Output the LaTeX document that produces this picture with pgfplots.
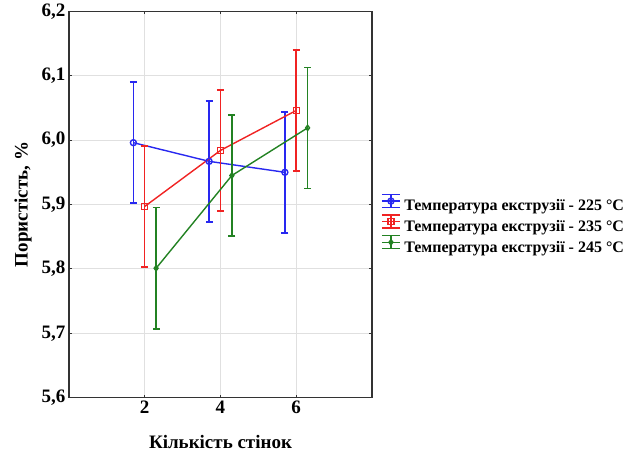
\documentclass[border=0pt]{standalone}
\usepackage{pgfplots}
\pgfplotsset{compat=1.18}
\usepackage{fontspec}
\setmainfont{Liberation Serif}

\definecolor{cblue}{RGB}{40,40,240}
\definecolor{cred}{RGB}{240,35,35}
\definecolor{cgreen}{RGB}{35,130,35}

\pgfplotsset{
  errlegend/.style={
    legend image code/.code={
      \draw[##1, mark=none] (0pt,5pt) -- (18pt,5pt);
      \draw[##1, mark=none] (9pt,-1.5pt) -- (9pt,11.5pt);
      \draw[##1, mark=none] (0pt,11.5pt) -- (18pt,11.5pt);
      \draw[##1, mark=none] (0pt,-1.5pt) -- (18pt,-1.5pt);
      \draw[##1] plot coordinates {(9pt,5pt)};
    }
  }
}

\begin{document}
\begin{tikzpicture}
\begin{axis}[
    scale only axis,
    width=303pt, height=386.4pt,
    xmin=0, xmax=8,
    ymin=5.6, ymax=6.2,
    xtick={2,4,6},
    ytick={5.6,5.7,5.8,5.9,6.0,6.1,6.2},
    grid=major,
    major grid style={black!12, line width=0.9pt},
    tick align=inside,
    major tick length=3pt,
    axis line style={black!80, line width=1.2pt},
    tick style={black!80, line width=0.8pt},
    /pgf/number format/use comma,
    /pgf/number format/assume math mode=true,
    ticklabel style={font=\fontsize{19}{21}\selectfont\bfseries},
    yticklabel style={/pgf/number format/fixed, /pgf/number format/fixed zerofill, /pgf/number format/precision=1},
    xlabel={Кількість стінок},
    ylabel={Пористість, \%},
    label style={font=\fontsize{19}{21}\selectfont\bfseries},
    xlabel style={at={(axis description cs:0.5,-0.115)}, anchor=center},
    ylabel style={at={(axis description cs:-0.152,0.5)}, anchor=center},
    legend style={at={(1.02,0.4495)}, anchor=west, draw=none, fill=none,
        font=\fontsize{16}{18}\selectfont\bfseries, nodes={inner sep=0.6pt},
        row sep=1.5pt, column sep=3pt},
    legend cell align=left,
    errlegend,
]
\addplot[cblue, line width=1.4pt, mark=o, mark size=3pt, mark options={fill=white, solid},
    error bars/.cd, y dir=both, y explicit,
    error bar style={line width=1.5pt, draw=cblue},
    error mark options={rotate=90, mark size=3.5pt, line width=1.5pt, draw=cblue}]
  table[x=x, y=y, y error=e] {
x   y     e
1.7 5.996 0.094
3.7 5.967 0.094
5.7 5.950 0.094
};
\addlegendentry{Температура екструзії - 225 °C}

\addplot[cred, line width=1.4pt, mark=square, mark size=3pt, mark options={fill=white, solid},
    error bars/.cd, y dir=both, y explicit,
    error bar style={line width=1.5pt, draw=cred},
    error mark options={rotate=90, mark size=3.5pt, line width=1.5pt, draw=cred}]
  table[x=x, y=y, y error=e] {
x   y     e
2.0 5.897 0.094
4.0 5.984 0.094
6.0 6.046 0.094
};
\addlegendentry{Температура екструзії - 235 °C}

\addplot[cgreen, line width=1.4pt, mark=diamond, mark size=2.6pt, mark options={fill=white, solid},
    error bars/.cd, y dir=both, y explicit,
    error bar style={line width=1.5pt, draw=cgreen},
    error mark options={rotate=90, mark size=3.5pt, line width=1.5pt, draw=cgreen}]
  table[x=x, y=y, y error=e] {
x   y     e
2.3 5.801 0.094
4.3 5.945 0.094
6.3 6.019 0.094
};
\addlegendentry{Температура екструзії - 245 °C}
\end{axis}
\pgfresetboundingbox
\path (-69pt,-56.3pt) rectangle (566pt,397.7pt);
\end{tikzpicture}
\end{document}
